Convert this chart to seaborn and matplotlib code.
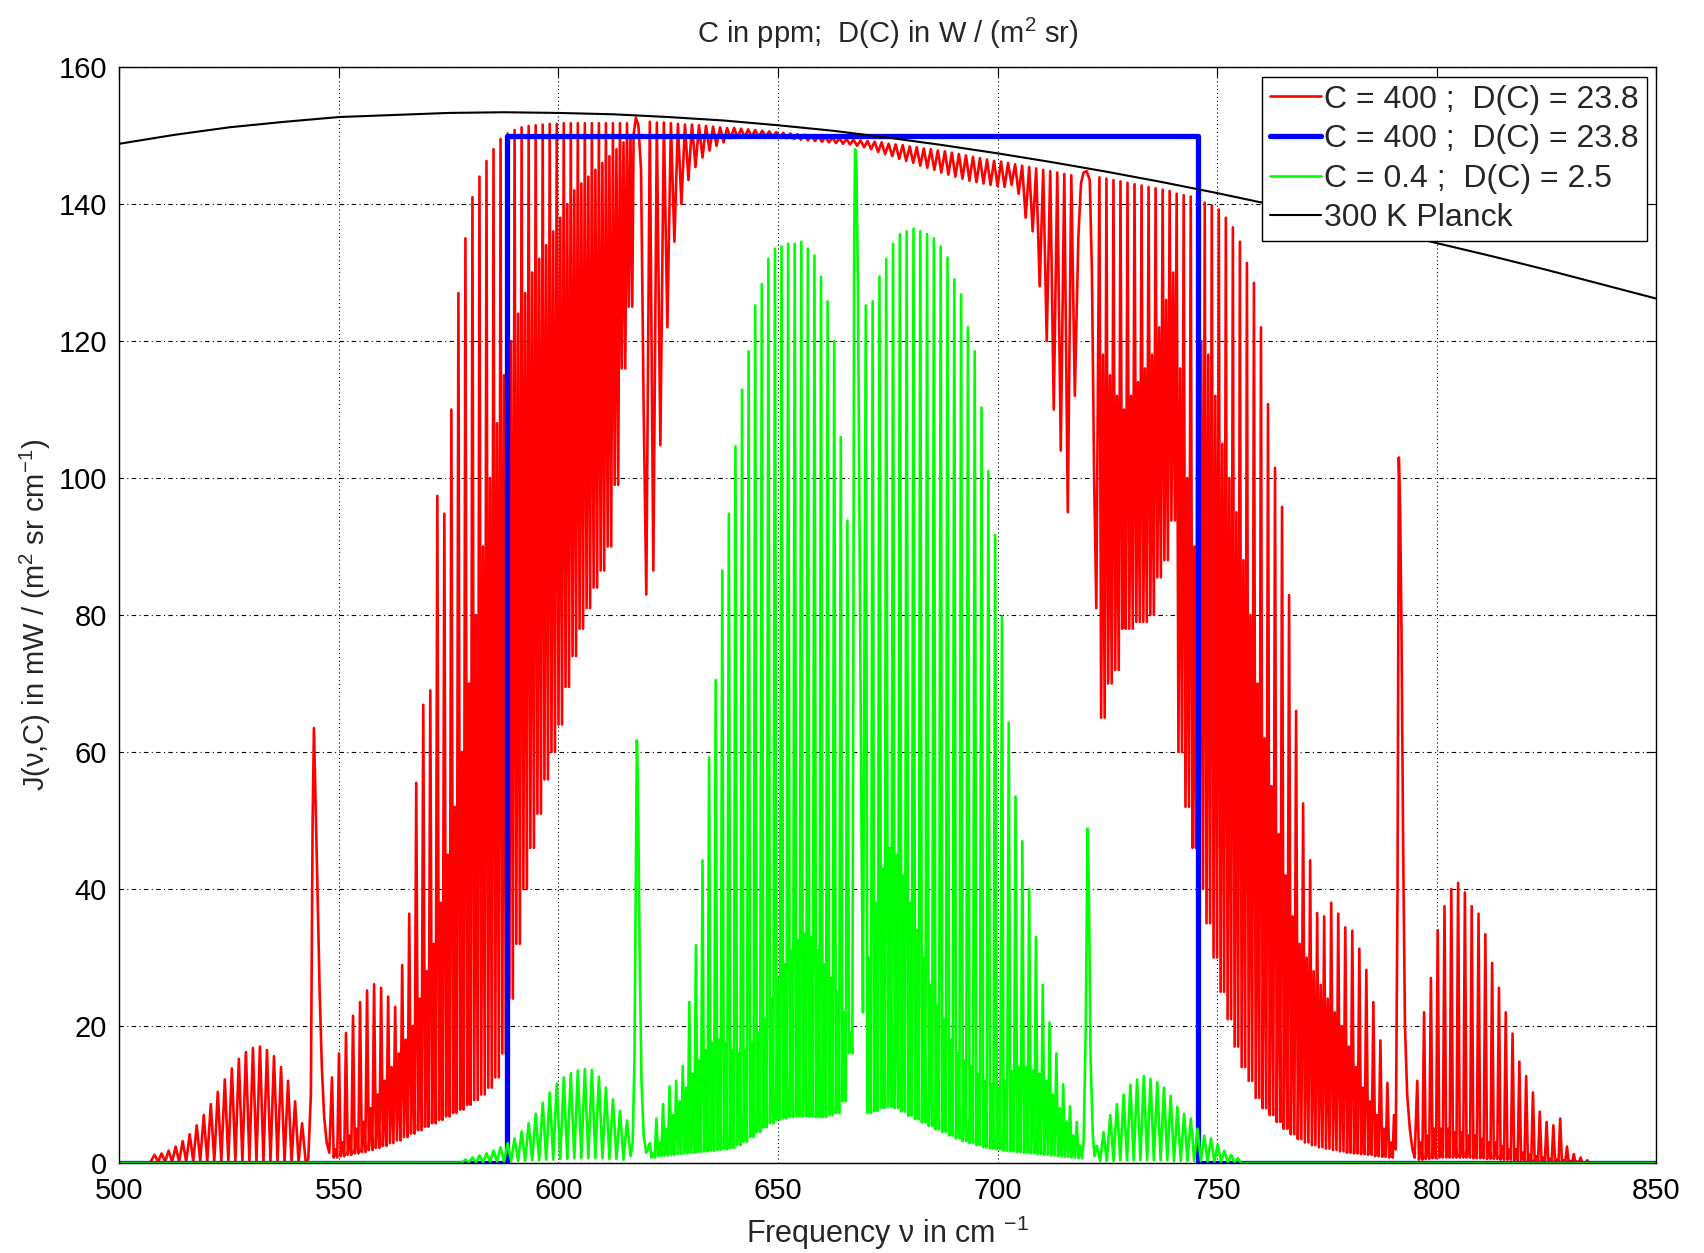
import numpy as np
import pandas as pd
import matplotlib
matplotlib.use("Agg")
import matplotlib.pyplot as plt
import seaborn as sns

# ---------------- data ----------------
# 300 K Planck curve, knots every 12.5 cm^-1 from 500 to 850
planck_nu = np.arange(500, 850.1, 12.5)
planck_val = [148.8, 150.1, 151.2, 152.0, 152.7, 153.0, 153.3, 153.4, 153.3, 153.1,
              152.7, 152.2, 151.5, 150.7, 149.7, 148.6, 147.4, 146.1, 144.7, 143.2,
              141.6, 139.9, 138.1, 136.3, 134.3, 132.4, 130.4, 128.3, 126.2]

# blue box spectrum
blue_nu = [500, 588.3, 588.3, 745.7, 745.7, 850]
blue_val = [0, 0, 150, 150, 0, 0]

# ---- red (C = 400) : line segments (start, step, peaks, lows, secondary peaks) ----
red_a = (508.0, 1.6,
         [1.2, 1.4, 1.8, 2.4, 3.2, 4.2, 5.5, 7.0, 8.6, 10.4, 12.2, 13.8, 15.2, 16.2, 16.8,
          17.0, 16.5, 15.6, 14.0, 12.0, 9.0, 5.8],
         [0.2, 0.2, 0.2, 0.2, 0.2, 0.3, 0.3, 0.3, 0.3, 0.3, 0.3, 0.3, 0.3, 0.3, 0.3,
          0.3, 0.3, 0.3, 0.3, 0.2, 0.2, 0.3],
         None)
red_q1_nu = [543.0, 543.6, 544.0, 544.3, 544.7, 545.1, 545.6, 546.1, 546.6, 547.2, 547.8]
red_q1_val = [0.5, 10, 50, 63.5, 52, 40, 25, 14, 7, 3, 1.5]
red_b = (548.4, 1.6,
         [12.5, 16, 19, 21.5, 23.5, 25.2, 26.1, 25.6, 24.3, 22.8, 28.9, 36.4, 55.5, 66.9, 69.0,
          97.4, 94.8, 110, 127, 135, 141, 144, 146.3, 148, 149.5, 150.3, 150.8, 151.2, 151.4,
          151.5, 151.6, 151.7, 151.7, 151.8, 151.8, 151.8, 151.8, 151.8, 151.8, 151.8, 151.8,
          151.8, 151.8],
         [0.8, 1.0, 1.2, 1.4, 1.6, 1.9, 2.2, 2.5, 2.9, 3.3, 3.8, 4.3, 4.8, 5.3, 5.8, 6.3, 6.8,
          7.3, 7.8, 8.5, 9.2, 10.0, 11.0, 12.5, 16, 24, 32, 40, 46, 51, 56, 60, 64, 69.5, 74,
          78, 81, 84, 86.5, 90, 99, 116, 125],
         [2, 3, 4, 5, 6, 8, 10, 12, 14, 16, 18, 20, 24, 28, 32, 38, 45, 52, 60, 70, 80, 90,
          100, 108, 115, 120, 124, 127, 130, 132, 134, 136, 138, 140, 142, 143, 144, 145, 146,
          147, 148, 149, 150])
red_q2_nu = [617.1, 617.6, 618.2, 618.8, 619.4, 620.0]
red_q2_val = [150, 152.6, 151.5, 145, 110, 83]
red_c = (620.8, 1.6,
         [152.0, 151.9, 151.9, 151.8, 151.7, 151.6, 151.6, 151.5, 151.4, 151.3, 151.2, 151.1,
          151.1, 151.0, 150.9, 150.8, 150.7, 150.6, 150.5, 150.4, 150.3, 150.2, 150.1, 150.0,
          149.9, 149.8, 149.7, 149.6, 149.5, 149.4, 149.3, 149.2, 149.1, 149.0, 148.8, 148.7,
          148.6, 148.4, 148.3, 148.1, 148.0, 147.8, 147.7, 147.5, 147.3, 147.1, 146.9, 146.7,
          146.5, 146.3],
         [86.5, 104.8, 122, 134.5, 140, 143.5, 145.4, 146.8, 147.8, 148.5, 149.0, 149.6, 149.7,
          149.7, 149.8, 149.8, 149.8, 149.8, 149.7, 149.6, 149.5, 149.4, 149.3, 149.2, 149.1,
          149.0, 148.9, 148.8, 148.7, 148.5, 148.3, 148.0, 147.6, 147.3, 147.0, 146.6, 146.3,
          146.0, 145.6, 145.3, 145.0, 144.6, 144.3, 144.0, 143.7, 143.4, 143.2, 143.0, 142.8,
          142.6],
         None)
red_d = (700.8, 1.6,
         [146.2, 146.0, 145.8, 145.6, 145.4, 145.2, 145.0, 144.8, 144.6, 144.4, 144.2],
         [142.5, 142.8, 141.5, 138, 136, 128, 120, 110, 104, 95, 112],
         None)
red_q3_nu = [718.4, 719.0, 719.6, 720.3, 721.0, 721.5, 722.0, 722.5]
red_q3_val = [135, 143, 144.6, 144.8, 143.5, 130, 100, 81]
red_e = (723.2, 1.6,
         [143.9, 143.7, 143.5, 143.3, 143.1, 142.9, 142.7, 142.5, 142.3, 142.1, 141.9, 141.5,
          141.3, 141.1],
         [65, 70, 72, 78, 78, 79, 79, 80, 85.5, 88, 93.8, 60, 52, 46],
         [118, 115, 112, 110, 112, 114, 116, 118, 122, 126, 130, 116, 100, 90])
red_f = (745.6, 1.6,
         [140.5, 140.2, 139.8, 139.2, 138.0, 136.6, 134.5, 131.4, 128.5, 122.0, 110.8, 101.5,
          95.8, 82.9, 66.0, 52.5, 44.2, 36.5, 36.0, 38.0, 36.4, 34.4, 33.9, 31.3, 28.2, 23.5,
          17.9, 11.7],
         [40, 35, 30, 25, 21, 17, 14, 12, 9.5, 8, 7, 6, 5, 4.2, 3.5, 3.0, 2.6, 2.3, 2.1, 1.9,
          1.7, 1.5, 1.4, 1.3, 1.2, 1.0, 0.9, 0.8],
         [120, 118, 112, 105, 100, 95, 88, 80, 70, 62, 55, 48, 42, 36, 32, 30, 28, 26, 24, 22,
          20, 17, 14, 11, 9, 7, 5, 3])
red_q4_nu = [790.3, 790.7, 791.1, 791.4, 791.7, 792.0, 792.4, 792.8, 793.3, 793.9, 794.5, 795.0]
red_q4_val = [7, 2, 40, 103, 95, 78, 45, 20, 10, 5, 2, 0.8]
red_g = (795.6, 1.55,
         [12, 22, 27, 34, 37.5, 40, 40.9, 39.5, 37.5, 36.4, 33.4, 29.2, 25.6, 22, 18.9, 14.8,
          12.7, 10.3, 7.5, 6.0, 5.5, 6.5, 2.4, 1.3, 0.8, 0.4],
         [0.5, 0.6, 0.7, 0.8, 0.8, 0.8, 0.8, 0.8, 0.7, 0.7, 0.6, 0.6, 0.5, 0.5, 0.4, 0.4, 0.3,
          0.3, 0.3, 0.2, 0.2, 0.2, 0.1, 0.1, 0.1, 0.0],
         [3, 4, 5, 5, 5, 4.5, 4.5, 4, 4, 3.5, 3, 3, 2.5, 2, 2, 1.5, 1.2, 1.0, 0.8, 0.6, 0.5,
          0.4, 0.3, 0.2, 0.1, 0.0])

# ---- green (C = 0.4) ----
green_a = (578.8, 1.6,
           [0.5, 0.8, 1.1, 1.4, 1.8, 2.3, 2.9, 3.6, 4.6, 5.8, 7.2, 8.8, 10.3, 11.6, 12.5, 13.1,
            13.5, 13.7, 13.6, 12.6, 11.0, 9.3, 7.6, 6.2],
           [0.1, 0.1, 0.1, 0.2, 0.2, 0.2, 0.3, 0.3, 0.3, 0.4, 0.4, 0.5, 0.5, 0.6, 0.6, 0.7,
            0.7, 0.7, 0.7, 0.7, 0.6, 0.6, 0.5, 1.0],
           None)
green_q1_nu = [616.9, 617.3, 617.6, 617.85, 618.1, 618.5, 618.9, 619.4, 620.0]
green_q1_val = [3, 15, 40, 61.7, 55, 30, 12, 4, 1.5]
green_b = (620.8, 1.5,
           [2.9, 6.5, 8.6, 11.2, 12.0, 14.2, 23.5, 31.8, 44.2, 59.2, 70.5, 86.5, 94.8, 104.6,
            112.9, 118.5, 125.2, 128.3, 132.0, 133.5, 133.8, 134.2, 134.2, 134.5, 133.5, 132.5,
            129.4, 125.8, 120.0, 106.0, 93.8],
           [0.8, 1.0, 1.1, 1.2, 1.3, 1.4, 1.5, 1.6, 1.7, 1.8, 1.9, 2.0, 2.2, 2.6, 3.1, 3.8, 4.5,
            5.2, 5.8, 6.3, 6.5, 6.7, 6.8, 6.8, 6.8, 6.7, 6.7, 7.0, 7.3, 9.0, 16],
           [1.5, 3, 5, 7, 9, 11, 13, 15, 16.5, 17.5, 18, 17.5, 16.5, 16, 16.5, 17.5, 19, 21, 24,
            27, 29, 31, 32.5, 33.5, 33, 31, 29, 27, 25, 22, 19])
green_q2_nu = [667.15, 667.35, 667.55, 667.85, 668.2, 668.6, 669.0, 669.35]
green_q2_val = [70, 135, 148, 146, 128, 90, 50, 22]
green_c = (670.0, 1.55,
           [125.2, 125.8, 129.4, 132.0, 134.2, 135.6, 136.0, 136.4, 136.0, 135.6, 135.0, 133.8,
            132.2, 129.0, 126.8, 122.0, 118.5, 110.3, 101.0, 91.7, 79.8, 64.3, 53.5, 47, 40, 33,
            26, 20.5, 16, 11.5, 8.3, 6.0],
           [7.3, 7.6, 8.0, 8.2, 8.0, 7.5, 6.9, 6.4, 5.9, 5.4, 4.9, 4.5, 4.0, 3.6, 3.2, 2.9, 2.6,
            2.3, 2.1, 2.0, 1.8, 1.7, 1.6, 1.5, 1.4, 1.3, 1.2, 1.1, 1.0, 0.9, 0.8, 0.7],
           [30, 38, 43, 46, 45, 42, 38, 34, 30, 26, 23, 21, 18, 16, 15, 14, 13, 12, 11.5, 11, 12,
            13.4, 14, 14, 13.5, 13, 12, 10, 8, 6, 4, 2.5])
green_q3_nu = [719.6, 720.1, 720.5, 720.8, 721.2, 721.7, 722.1]
green_q3_val = [3, 20, 48.8, 40, 15, 4, 1.0]
green_d = (722.6, 1.53,
           [2.5, 4.5, 7.0, 8.6, 10.0, 11.4, 12.2, 12.7, 12.3, 11.8, 11.0, 9.8, 8.2, 7.2, 6.5,
            5.0, 4.0, 3.6, 2.7, 1.8, 1.2, 0.7],
           [0.3, 0.3, 0.3, 0.4, 0.4, 0.4, 0.4, 0.4, 0.4, 0.4, 0.4, 0.3, 0.3, 0.3, 0.3, 0.3, 0.2,
            0.2, 0.2, 0.1, 0.1, 0.0],
           None)

legend_labels = ["C = 400 ;  D(C) = 23.8", "C = 400 ;  D(C) = 23.8",
                 "C = 0.4 ;  D(C) = 2.5", "300 K Planck"]
x_ticks = [500, 550, 600, 650, 700, 750, 800, 850]
y_ticks = [0, 20, 40, 60, 80, 100, 120, 140, 160]


# ---------------- build the spectra from the segments ----------------
def lines(seg):
    start, step, peaks, lows, mids = seg
    xs, ys = [], []
    for i, p in enumerate(peaks):
        c = start + i * step
        xs.append(c)
        ys.append(p)
        if mids is None:
            xs.append(c + step / 2)
            ys.append(lows[i])
        else:
            xs += [c + step / 4, c + step / 2, c + 3 * step / 4]
            ys += [lows[i], mids[i], lows[i]]
    return xs, ys


def assemble(parts):
    X, Y = [], []
    for p in parts:
        if isinstance(p, tuple) and len(p) == 5:
            xs, ys = lines(p)
        else:
            xs, ys = p
        X += list(xs)
        Y += list(ys)
    return np.array(X), np.array(Y)


red_nu, red_val = assemble([([500, 507.0], [0, 0.1]), red_a, (red_q1_nu, red_q1_val), red_b,
                            (red_q2_nu, red_q2_val), red_c, red_d, (red_q3_nu, red_q3_val),
                            red_e, red_f, (red_q4_nu, red_q4_val), red_g,
                            ([836, 850], [0, 0])])
green_nu, green_val = assemble([([500, 578.0], [0, 0.05]), green_a, (green_q1_nu, green_q1_val),
                                green_b, (green_q2_nu, green_q2_val), green_c,
                                (green_q3_nu, green_q3_val), green_d, ([756, 850], [0, 0])])

# ---------------- style ----------------
sns.set_style("white")
plt.rcParams["font.family"] = ["Liberation Sans", "DejaVu Sans"]
plt.rcParams["mathtext.fontset"] = "custom"
plt.rcParams["mathtext.rm"] = "Liberation Sans"
plt.rcParams["mathtext.it"] = "Liberation Sans:italic"
plt.rcParams["axes.unicode_minus"] = False

fig = plt.figure(figsize=(17.04, 12.53), dpi=100)
ax = fig.add_axes([0.0701, 0.0718, 0.9018, 0.8747])

sns.lineplot(x=red_nu, y=red_val, ax=ax, sort=False, estimator=None, color="#ff0000",
             lw=1.9, label=legend_labels[0])
sns.lineplot(x=blue_nu, y=blue_val, ax=ax, sort=False, estimator=None, color="#0000ff",
             lw=3.8, label=legend_labels[1])
sns.lineplot(x=green_nu, y=green_val, ax=ax, sort=False, estimator=None, color="#00ff00",
             lw=1.9, label=legend_labels[2])
sns.lineplot(x=planck_nu, y=planck_val, ax=ax, sort=False, estimator=None, color="black",
             lw=1.5, label=legend_labels[3])

ax.set_xlim(500, 850)
ax.set_ylim(0, 160)
ax.set_xticks(x_ticks)
ax.set_yticks(y_ticks)
ax.set_axisbelow(True)
ax.xaxis.grid(True, linestyle=(0, (1, 2.5)), color="black", lw=0.8)
ax.yaxis.grid(True, linestyle=(0, (4, 3, 1, 3)), color="black", lw=0.8)
ax.tick_params(direction="in", top=True, right=True, length=7, width=0.8,
               labelsize=21, colors="black")
ax.tick_params(axis="x", pad=10)
ax.tick_params(axis="y", pad=9)
for s in ax.spines.values():
    s.set_color("black")
    s.set_linewidth(1.0)

ax.set_xlabel("Frequency ν in cm $^{-1}$", fontsize=22, labelpad=6)
ax.set_ylabel("J(ν,C) in mW / (m$^{2}$ sr cm$^{-1}$)", fontsize=21, labelpad=4)
ax.set_title("C in ppm;  D(C) in W / (m$^{2}$ sr)", fontsize=21, pad=17)

leg = ax.legend(loc="upper right", fontsize=23, frameon=True, fancybox=False,
                edgecolor="black", framealpha=1, borderaxespad=0.3, handlelength=1.6,
                handletextpad=0.1, labelspacing=0.3, borderpad=0.25)
leg.get_frame().set_linewidth(1.0)

fig.savefig("out.png", dpi=100, facecolor="white")
